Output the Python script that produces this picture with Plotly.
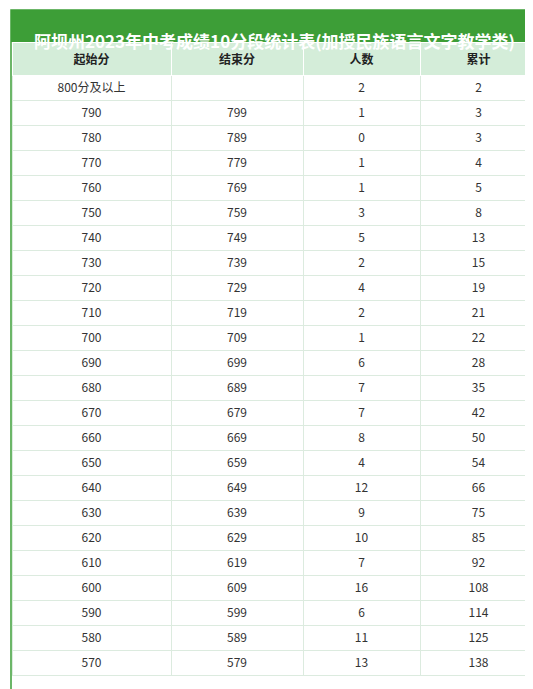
import plotly.graph_objects as go

W, H = 533, 689
TITLE = "阿坝州2023年中考成绩10分段统计表(加授民族语言文字教学类)"

headers = ["起始分", "结束分", "人数", "累计"]
start_scores = ["800分及以上", 790, 780, 770, 760, 750, 740, 730, 720, 710, 700,
                690, 680, 670, 660, 650, 640, 630, 620, 610, 600, 590, 580, 570]
end_scores = ["", 799, 789, 779, 769, 759, 749, 739, 729, 719, 709,
              699, 689, 679, 669, 659, 649, 639, 629, 619, 609, 599, 589, 579]
counts = [2, 1, 0, 1, 1, 3, 5, 2, 4, 2, 1, 6, 7, 7, 8, 4, 12, 9, 10, 7, 16, 6, 11, 13]
cumulative = [2, 3, 3, 4, 5, 8, 13, 15, 19, 21, 22, 28, 35, 42, 50, 54, 66, 75, 85, 92,
              108, 114, 125, 138]

FONT = "Noto Sans CJK SC"
GREEN = "#3d9e37"
LINE = "#dcebdf"

fig = go.Figure(go.Table(
    columnwidth=[159, 132, 117, 117],
    domain=dict(x=[4 / W, 529 / W], y=[0, 1 - 34 / H]),
    header=dict(
        values=[f"<b>{h}</b>" for h in headers],
        fill_color="#d4edd9",
        line_color="white",
        font=dict(family=FONT, size=12, color="#222"),
        height=24,
        align="center",
    ),
    cells=dict(
        values=[start_scores, end_scores, counts, cumulative],
        fill_color="white",
        line_color=LINE,
        font=dict(family=FONT, size=12, color="#333"),
        height=25,
        align="center",
    ),
))

# title bar and outer border
fig.add_shape(type="rect", xref="paper", yref="paper",
              x0=3 / W, x1=530 / W, y0=1 - 34 / H, y1=1 - 2 / H,
              fillcolor=GREEN, line_width=0, layer="above")
fig.add_shape(type="rect", xref="paper", yref="paper",
              x0=3 / W, x1=530 / W, y0=0, y1=1 - 2 / H,
              line=dict(color=GREEN, width=1.5), layer="above")
fig.add_annotation(text=f"<b>{TITLE}</b>", xref="paper", yref="paper",
                   x=0.5, y=1 - 18 / H, showarrow=False,
                   font=dict(family=FONT, size=17, color="white"))

fig.update_layout(width=W, height=H, margin=dict(l=0, r=0, t=0, b=0),
                  paper_bgcolor="white")

fig.write_html("out.html")
